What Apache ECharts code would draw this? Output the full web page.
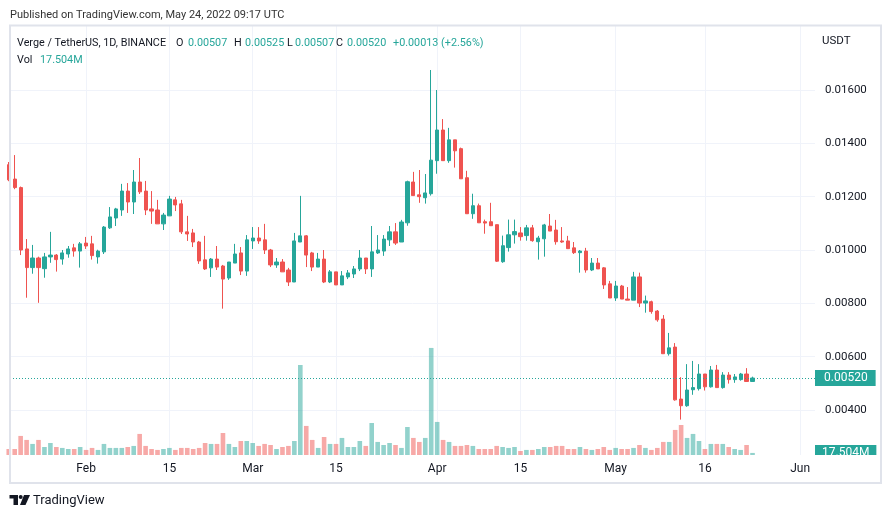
<!DOCTYPE html>
<html>
<head>
<meta charset="utf-8">
<title>Verge / TetherUS, 1D, BINANCE</title>
<script src="https://cdn.jsdelivr.net/npm/echarts@6/dist/echarts.min.js"></script>
<style>
  html, body { margin: 0; padding: 0; background: #fff; }
  #main { width: 891px; height: 518px; }
</style>
</head>
<body>
<div id="main"></div>
<script>
// XVG/USDT daily candles from 2022-01-19 to 2022-05-24
const startDate = "2022-01-19"
const opens = [
  0.01320, 0.01266, 0.01234, 0.01004, 0.00934, 0.00970, 0.00930, 0.00974, 0.00981, 0.00966,
  0.00985, 0.01008, 0.00996, 0.01026, 0.01023, 0.00974, 0.00993, 0.01083, 0.01120, 0.01150,
  0.01221, 0.01180, 0.01255, 0.01221, 0.01154, 0.01150, 0.01098, 0.01128, 0.01188, 0.01173,
  0.01068, 0.01064, 0.01030, 0.00963, 0.00933, 0.00966, 0.00940, 0.00895, 0.00951, 0.00989,
  0.00921, 0.01034, 0.01045, 0.01038, 0.01000, 0.00944, 0.00955, 0.00925, 0.00880, 0.01030,
  0.01053, 0.00989, 0.00936, 0.00966, 0.00880, 0.00918, 0.00869, 0.00899, 0.00910, 0.00929,
  0.00970, 0.00929, 0.00989, 0.00996, 0.01038, 0.01068, 0.01030, 0.01102, 0.01255, 0.01207,
  0.01196, 0.01211, 0.01335, 0.01450, 0.01335, 0.01413, 0.01380, 0.01271, 0.01136, 0.01166,
  0.01106, 0.01106, 0.01095, 0.00956, 0.01009, 0.01057, 0.01064, 0.01054, 0.01083, 0.01031,
  0.01042, 0.01090, 0.01075, 0.01034, 0.01034, 0.01008, 0.00990, 0.00996, 0.00925, 0.00951,
  0.00933, 0.00873, 0.00820, 0.00865, 0.00816, 0.00812, 0.00899, 0.00801, 0.00806, 0.00771,
  0.00741, 0.00611, 0.00636, 0.00441, 0.00416, 0.00476, 0.00480, 0.00535, 0.00487, 0.00550,
  0.00484, 0.00531, 0.00514, 0.00514, 0.00535, 0.00507
]
const highs = [
  0.01330, 0.01356, 0.01238, 0.01041, 0.01019, 0.00975, 0.00989, 0.01068, 0.00985, 0.01000,
  0.01015, 0.01023, 0.01030, 0.01049, 0.01053, 0.01001, 0.01090, 0.01161, 0.01158, 0.01248,
  0.01251, 0.01300, 0.01345, 0.01259, 0.01221, 0.01188, 0.01139, 0.01203, 0.01199, 0.01188,
  0.01128, 0.01079, 0.01034, 0.01053, 0.00970, 0.01015, 0.00944, 0.00955, 0.01023, 0.01011,
  0.01056, 0.01086, 0.01086, 0.01098, 0.01004, 0.00970, 0.00966, 0.00933, 0.01064, 0.01203,
  0.01056, 0.00993, 0.00989, 0.01000, 0.00925, 0.00918, 0.00921, 0.00925, 0.00940, 0.01000,
  0.00970, 0.01090, 0.01056, 0.01056, 0.01090, 0.01101, 0.01113, 0.01260, 0.01293, 0.01300,
  0.01285, 0.01675, 0.01600, 0.01491, 0.01458, 0.01413, 0.01384, 0.01297, 0.01211, 0.01174,
  0.01114, 0.01177, 0.01095, 0.01054, 0.01114, 0.01114, 0.01086, 0.01094, 0.01094, 0.01053,
  0.01098, 0.01135, 0.01113, 0.01086, 0.01053, 0.01030, 0.01000, 0.01008, 0.00970, 0.00970,
  0.00936, 0.00884, 0.00884, 0.00869, 0.00861, 0.00918, 0.00915, 0.00829, 0.00810, 0.00775,
  0.00756, 0.00689, 0.00651, 0.00523, 0.00572, 0.00584, 0.00572, 0.00535, 0.00565, 0.00569,
  0.00542, 0.00542, 0.00535, 0.00539, 0.00557, 0.00525
]
const lows = [
  0.01258, 0.01228, 0.00981, 0.00821, 0.00911, 0.00802, 0.00896, 0.00952, 0.00919, 0.00945,
  0.00971, 0.00975, 0.00934, 0.01004, 0.00964, 0.00949, 0.00985, 0.01079, 0.01090, 0.01128,
  0.01139, 0.01135, 0.01210, 0.01131, 0.01098, 0.01098, 0.01075, 0.01128, 0.01146, 0.01060,
  0.01034, 0.01011, 0.00948, 0.00925, 0.00899, 0.00925, 0.00780, 0.00888, 0.00951, 0.00906,
  0.00903, 0.01004, 0.01023, 0.00985, 0.00936, 0.00933, 0.00918, 0.00865, 0.00880, 0.01030,
  0.00936, 0.00921, 0.00936, 0.00876, 0.00876, 0.00869, 0.00869, 0.00891, 0.00895, 0.00921,
  0.00910, 0.00899, 0.00985, 0.00978, 0.01015, 0.01019, 0.01030, 0.01091, 0.01204, 0.01177,
  0.01174, 0.01204, 0.01286, 0.01335, 0.01327, 0.01309, 0.01267, 0.01136, 0.01117, 0.01102,
  0.01061, 0.01091, 0.00955, 0.00952, 0.00994, 0.01024, 0.01035, 0.01035, 0.01031, 0.00964,
  0.00975, 0.01071, 0.01020, 0.01027, 0.01005, 0.00985, 0.00915, 0.00915, 0.00921, 0.00929,
  0.00854, 0.00820, 0.00809, 0.00816, 0.00812, 0.00812, 0.00786, 0.00765, 0.00761, 0.00731,
  0.00611, 0.00604, 0.00435, 0.00364, 0.00412, 0.00457, 0.00473, 0.00473, 0.00484, 0.00484,
  0.00480, 0.00499, 0.00502, 0.00510, 0.00505, 0.00507
]
const closes = [
  0.01263, 0.01234, 0.01000, 0.00934, 0.00970, 0.00934, 0.00974, 0.00981, 0.00964, 0.00989,
  0.01004, 0.00996, 0.01023, 0.01015, 0.00979, 0.00996, 0.01086, 0.01124, 0.01154, 0.01221,
  0.01180, 0.01255, 0.01218, 0.01150, 0.01146, 0.01098, 0.01131, 0.01191, 0.01169, 0.01068,
  0.01060, 0.01030, 0.00959, 0.00929, 0.00966, 0.00936, 0.00891, 0.00955, 0.00985, 0.00921,
  0.01038, 0.01045, 0.01034, 0.01000, 0.00944, 0.00955, 0.00918, 0.00880, 0.01034, 0.01053,
  0.00981, 0.00936, 0.00966, 0.00880, 0.00918, 0.00869, 0.00903, 0.00914, 0.00929, 0.00970,
  0.00929, 0.00993, 0.01000, 0.01041, 0.01068, 0.01026, 0.01105, 0.01256, 0.01204, 0.01200,
  0.01214, 0.01337, 0.01450, 0.01335, 0.01413, 0.01372, 0.01267, 0.01136, 0.01166, 0.01102,
  0.01101, 0.01091, 0.00958, 0.01016, 0.01057, 0.01069, 0.01050, 0.01083, 0.01035, 0.01045,
  0.01094, 0.01071, 0.01031, 0.01030, 0.01005, 0.00990, 0.00996, 0.00925, 0.00951, 0.00929,
  0.00869, 0.00820, 0.00865, 0.00816, 0.00812, 0.00899, 0.00801, 0.00809, 0.00769, 0.00738,
  0.00611, 0.00633, 0.00438, 0.00416, 0.00475, 0.00484, 0.00535, 0.00487, 0.00550, 0.00484,
  0.00531, 0.00514, 0.00524, 0.00535, 0.00507, 0.00520
]
// volume in millions of XVG
const volumes = [
  51, 51, 162, 128, 94, 128, 68, 102, 68, 60,
  51, 51, 68, 43, 60, 43, 94, 60, 60, 60,
  68, 77, 179, 77, 51, 43, 51, 60, 43, 60,
  60, 51, 60, 102, 94, 94, 187, 94, 68, 119,
  119, 102, 77, 94, 85, 51, 68, 77, 119, 765,
  247, 128, 60, 153, 94, 94, 145, 68, 68, 119,
  77, 272, 111, 85, 102, 85, 60, 238, 145, 111,
  145, 910, 281, 128, 111, 77, 77, 85, 77, 51,
  51, 51, 77, 68, 60, 68, 34, 43, 43, 51,
  68, 68, 77, 77, 51, 51, 68, 51, 43, 51,
  68, 43, 60, 51, 51, 60, 85, 60, 43, 60,
  111, 111, 213, 255, 145, 179, 119, 51, 94, 94,
  94, 68, 51, 43, 85, 17.504
]
const tickDates = ["2022-02-01", "2022-02-15", "2022-03-01", "2022-03-15", "2022-04-01",
  "2022-04-15", "2022-05-01", "2022-05-16", "2022-06-01"]
const tickTexts = ["Feb", "15", "Mar", "15", "Apr", "15", "May", "16", "Jun"]
const priceTicks = [0.004, 0.006, 0.008, 0.010, 0.012, 0.014, 0.016]

const upColor = "#26a69a"
const downColor = "#ef5350"
const upVol = "rgba(38,166,154,0.5)"
const downVol = "rgba(239,83,80,0.5)"
const gridColor = "#f0f3fa"
const textColor = "#131722"
const font = "Roboto, sans-serif"

const dayIndex = (d) => Math.round((Date.parse(d) - Date.parse(startDate)) / 86400000)
const tickIdx = tickDates.map(dayIndex)

const candleData = opens.map((o, i) => [i, o, closes[i], lows[i], highs[i]])
const volData = volumes.map((v, i) => ({
  value: [i, v],
  itemStyle: { color: closes[i] >= opens[i] ? upVol : downVol },
}))

const n = closes.length
const lastO = opens[n - 1], lastH = highs[n - 1], lastL = lows[n - 1], lastC = closes[n - 1]
const chg = lastC - closes[n - 2]
const chgPct = (chg / closes[n - 2]) * 100
const sign = chg >= 0 ? "+" : "-"
const valColor = chg >= 0 ? upColor : downColor
const lastVol = volumes[n - 1]

const xMin = 0.21
const xMax = 135.5

function txt(x, y, text, color, size) {
  return {
    type: "text", x: x, y: y, z: 110,
    style: { text: text, fill: color, fontSize: size || 10.8, fontFamily: font, verticalAlign: "middle" },
  }
}

const chartDom = document.getElementById("main")
const myChart = echarts.init(chartDom)
const option = {
  animation: false,
  textStyle: { fontFamily: font },
  grid: [
    { left: 10, top: 26, width: 805, height: 429 },
    { left: 10, top: 335, width: 805, height: 120 },
  ],
  xAxis: [
    {
      type: "value", gridIndex: 0, min: xMin, max: xMax,
      axisLine: { show: false },
      axisTick: { show: false, customValues: tickIdx },
      axisLabel: { show: false },
      splitLine: { show: true, lineStyle: { color: gridColor, width: 1 } },
    },
    {
      type: "value", gridIndex: 1, min: xMin, max: xMax,
      axisLine: { show: false },
      axisTick: { show: false, customValues: tickIdx },
      axisLabel: {
        customValues: tickIdx,
        formatter: (v) => { const k = tickIdx.indexOf(v); return k >= 0 ? tickTexts[k] : "" },
        color: textColor, fontSize: 12, margin: 8,
      },
      splitLine: { show: false },
    },
  ],
  yAxis: [
    {
      type: "value", gridIndex: 0, position: "right",
      min: 0.0023125, max: 0.0184,
      axisLine: { show: false },
      axisTick: { show: false, customValues: priceTicks },
      axisLabel: {
        customValues: priceTicks,
        formatter: (v) => v.toFixed(5),
        color: textColor, fontSize: 11.5, margin: 10,
      },
      splitLine: { show: true, lineStyle: { color: gridColor, width: 1 } },
    },
    { type: "value", gridIndex: 1, min: 0, max: 1020, show: false },
  ],
  series: [
    {
      name: "Vol", type: "bar", xAxisIndex: 1, yAxisIndex: 1,
      barWidth: 4.6, data: volData, silent: true,
      markLine: {
        silent: true, symbol: ["none", "none"], precision: 5,
        lineStyle: { color: "rgba(0,0,0,0)", width: 1 },
        label: {
          show: true, position: "end", distance: 0,
          formatter: () => lastVol.toFixed(3) + "M",
          color: "#fff", backgroundColor: valColor, opacity: 1,
          padding: [2, 7, 2, 7], fontSize: 12, lineHeight: 12,
        },
        data: [{ yAxis: lastVol }],
      },
    },
    {
      name: "XVGUSDT", type: "candlestick", xAxisIndex: 0, yAxisIndex: 0,
      barWidth: 3.7, encode: { x: 0, y: [1, 2, 3, 4] },
      data: candleData, silent: true,
      itemStyle: {
        color: upColor, color0: downColor,
        borderColor: upColor, borderColor0: downColor, borderWidth: 1,
      },
      markLine: {
        silent: true, symbol: ["none", "none"], precision: 5,
        lineStyle: { color: valColor, type: [1, 2], width: 1 },
        label: {
          position: "end", distance: 0,
          formatter: () => lastC.toFixed(5),
          color: "#fff", backgroundColor: valColor,
          padding: [2, 8, 2, 9], fontSize: 12, lineHeight: 12,
        },
        data: [{ yAxis: lastC }],
      },
    },
  ],
  graphic: [
    txt(10, 15, "Published on TradingView.com, May 24, 2022 09:17 UTC", "#333", 11),
    // cover the price scale under the plot, then the frame
    { type: "rect", z: 100, shape: { x: 811, y: 455, width: 69, height: 27 }, style: { fill: "#fff" } },
    { type: "rect", z: 101, shape: { x: 10, y: 25.5, width: 871, height: 457.5 },
      style: { fill: "none", stroke: "#e0e3eb", lineWidth: 2 } },
    txt(17, 43, "Verge / TetherUS, 1D, BINANCE", textColor),
    txt(176, 43, "O", textColor), txt(188, 43, lastO.toFixed(5), valColor),
    txt(234, 43, "H", textColor), txt(245, 43, lastH.toFixed(5), valColor),
    txt(287, 43, "L", textColor), txt(295, 43, lastL.toFixed(5), valColor),
    txt(336, 43, "C", textColor), txt(347, 43, lastC.toFixed(5), valColor),
    txt(393, 43, sign + Math.abs(chg).toFixed(5) + " (" + sign + Math.abs(chgPct).toFixed(2) + "%)", valColor),
    txt(17, 60, "Vol", textColor), txt(40, 60, lastVol.toFixed(3) + "M", valColor),
    txt(822, 41, "USDT", textColor, 11.5),
    // TradingView logo
    { type: "rect", z: 110, shape: { x: 9.5, y: 495, width: 8.5, height: 3.5 }, style: { fill: textColor } },
    { type: "rect", z: 110, shape: { x: 13.5, y: 495, width: 4.5, height: 10 }, style: { fill: textColor } },
    { type: "circle", z: 110, shape: { cx: 20.7, cy: 497, r: 2 }, style: { fill: textColor } },
    { type: "polygon", z: 110, shape: { points: [[24, 495], [30, 495], [25.5, 505], [20, 505]] }, style: { fill: textColor } },
    txt(33, 501, "TradingView", textColor, 13),
  ],
}
option && myChart.setOption(option)
</script>
</body>
</html>
